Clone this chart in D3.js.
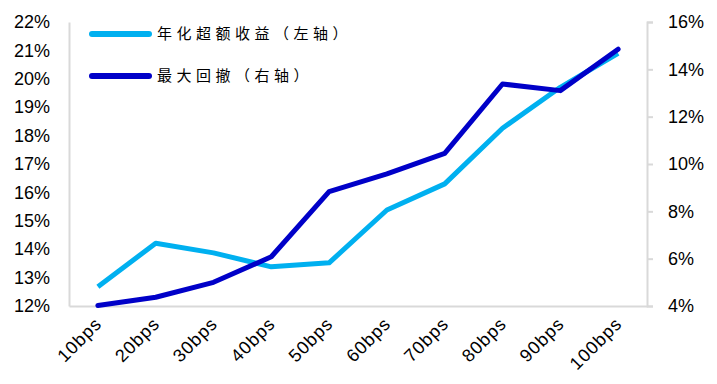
<!DOCTYPE html>
<html>
<head>
<meta charset="utf-8">
<script src="https://cdn.jsdelivr.net/npm/d3@7"></script>
<style>
body { margin: 0; background: #fff; }
text { font-family: "Liberation Sans", Arial, sans-serif; }
</style>
</head>
<body>
<svg id="chart"></svg>
<script>
var categories = ["10bps","20bps","30bps","40bps","50bps","60bps","70bps","80bps","90bps","100bps"]
var excessReturn = [12.68, 14.21, 13.87, 13.38, 13.52, 15.38, 16.30, 18.26, 19.70, 20.90]
var maxDrawdown = [4.02, 4.37, 5.00, 6.08, 8.83, 9.58, 10.45, 13.38, 13.10, 14.85]
var leftTicks = [12,13,14,15,16,17,18,19,20,21,22]
var rightTicks = [4,6,8,10,12,14,16]
var seriesNames = ["年化超额收益（左轴）", "最大回撤（右轴）"]

var screen = { width: 717, height: 384 }
var margin = { left: 69, right: 70, top: 22, bottom: 78 }

var width = screen.width - margin.left - margin.right
var height = screen.height - margin.top - margin.bottom

var svg = d3.select("#chart")
  .attr("width", screen.width)
  .attr("height", screen.height)

var g = svg.append("g")
  .attr("transform", "translate(" + margin.left + "," + margin.top + ")")

var xScale = d3.scaleBand()
  .domain(categories)
  .range([0, width])

var yLeft = d3.scaleLinear()
  .domain([12, 22])
  .range([height, 0])

var yRight = d3.scaleLinear()
  .domain([4, 16])
  .range([height, 0])

var grey = "#d9d9d9"

// left axis: line only, labels
var leftAxis = g.append("g")
  .call(d3.axisLeft(yLeft).tickValues(leftTicks).tickSize(0).tickPadding(19)
    .tickFormat(function(d){ return d + "%" }))
leftAxis.select(".domain").attr("stroke", grey).attr("stroke-width", 2)
leftAxis.selectAll("text").attr("font-size", 18).attr("fill", "#000")

// right axis with outward ticks
var rightAxis = g.append("g")
  .attr("transform", "translate(" + width + ",0)")
  .call(d3.axisRight(yRight).tickValues(rightTicks).tickSizeInner(6).tickSizeOuter(6).tickPadding(15)
    .tickFormat(function(d){ return d + "%" }))
rightAxis.select(".domain").attr("stroke", grey).attr("stroke-width", 2)
rightAxis.selectAll(".tick line").attr("stroke", grey).attr("stroke-width", 2)
rightAxis.selectAll("text").attr("font-size", 18).attr("fill", "#000")

// bottom axis
var xAxis = g.append("g")
  .attr("transform", "translate(0," + height + ")")
  .call(d3.axisBottom(xScale).tickSize(0))
xAxis.select(".domain").attr("stroke", grey).attr("stroke-width", 2)
xAxis.selectAll("text")
  .attr("font-size", 18)
  .attr("letter-spacing", 1)
  .attr("fill", "#000")
  .attr("text-anchor", "end")
  .attr("x", 0)
  .attr("y", 0)
  .attr("dy", 0)
  .attr("transform", "translate(5,19) rotate(-45)")

var cx = function(d, i){ return xScale(categories[i]) + xScale.bandwidth()/2 }

var lineLeft = d3.line()
  .x(cx)
  .y(function(d){ return yLeft(d) })

var lineRight = d3.line()
  .x(cx)
  .y(function(d){ return yRight(d) })

g.append("path")
  .datum(excessReturn)
  .attr("d", lineLeft)
  .attr("fill", "none")
  .attr("stroke", "#00B0F0")
  .attr("stroke-width", 5)
  .attr("stroke-linejoin", "round")

g.append("path")
  .datum(maxDrawdown)
  .attr("d", lineRight)
  .attr("fill", "none")
  .attr("stroke", "#0000C8")
  .attr("stroke-width", 5)
  .attr("stroke-linejoin", "round")
  .attr("stroke-linecap", "round")

// legend
var legendColors = ["#00B0F0", "#0000C8"]
var legend = svg.selectAll(".legend")
  .data(seriesNames)
  .enter()
  .append("g")
  .attr("transform", function(d, i){ return "translate(92," + (34 + i*42) + ")" })

legend.append("line")
  .attr("x1", 0).attr("x2", 57)
  .attr("stroke", function(d, i){ return legendColors[i] })
  .attr("stroke-width", 6)
  .attr("stroke-linecap", "round")

legend.append("text")
  .attr("x", 65)
  .attr("dy", "0.36em")
  .attr("font-size", 15)
  .attr("letter-spacing", 4.5)
  .style("font-family", "'Noto Sans CJK SC', sans-serif")
  .text(function(d){ return d })
</script>
</body>
</html>
